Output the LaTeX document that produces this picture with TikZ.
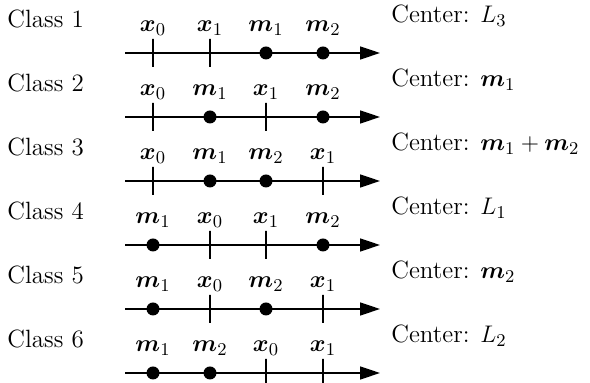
\documentclass[tikz,border=0pt]{standalone}
\usepackage{bm}
\usepackage{tikz}
\usetikzlibrary{arrows.meta}

\begin{document}
\begin{tikzpicture}[x=0.5pt,y=-0.5pt,
    every node/.style={font=\fontsize{12.5}{15}\selectfont, inner sep=0pt},
    axisline/.style={line width=0.8pt, -{Triangle[length=10pt,width=6.5pt]}},
    tickmark/.style={draw, line width=0.7pt, minimum width=0pt, minimum height=14pt},
    dotmark/.style={circle, fill=black, minimum size=6.5pt},
    ptlabel/.style={anchor=base},
    classlabel/.style={anchor=base west}]
    \useasboundingbox (0,0) rectangle (590,383);

    % Class 1
    \node[classlabel] (c1) at (7,28) {Class 1};
    \coordinate (s1) at (125,53); \coordinate (e1) at (380,53);
    \draw[axisline] (s1) -- (e1);
    \node[tickmark] (p1a) at (153,53) {}; \node[ptlabel] (l1a) at (153,32) {$\bm{x}_0$};
    \node[tickmark] (p1b) at (210,53) {}; \node[ptlabel] (l1b) at (210,32) {$\bm{x}_1$};
    \node[dotmark]  (p1c) at (266,53) {}; \node[ptlabel] (l1c) at (266,32) {$\bm{m}_1$};
    \node[dotmark]  (p1d) at (323,53) {}; \node[ptlabel] (l1d) at (323,32) {$\bm{m}_2$};
    \node[classlabel] (k1) at (391,23) {Center: $L_3$};

    % Class 2
    \node[classlabel] (c2) at (7,92) {Class 2};
    \coordinate (s2) at (125,117); \coordinate (e2) at (380,117);
    \draw[axisline] (s2) -- (e2);
    \node[tickmark] (p2a) at (153,117) {}; \node[ptlabel] (l2a) at (153,96) {$\bm{x}_0$};
    \node[dotmark]  (p2b) at (210,117) {}; \node[ptlabel] (l2b) at (210,96) {$\bm{m}_1$};
    \node[tickmark] (p2c) at (266,117) {}; \node[ptlabel] (l2c) at (266,96) {$\bm{x}_1$};
    \node[dotmark]  (p2d) at (323,117) {}; \node[ptlabel] (l2d) at (323,96) {$\bm{m}_2$};
    \node[classlabel] (k2) at (391,87) {Center: $\bm{m}_1$};

    % Class 3
    \node[classlabel] (c3) at (7,156) {Class 3};
    \coordinate (s3) at (125,181); \coordinate (e3) at (380,181);
    \draw[axisline] (s3) -- (e3);
    \node[tickmark] (p3a) at (153,181) {}; \node[ptlabel] (l3a) at (153,160) {$\bm{x}_0$};
    \node[dotmark]  (p3b) at (210,181) {}; \node[ptlabel] (l3b) at (210,160) {$\bm{m}_1$};
    \node[dotmark]  (p3c) at (266,181) {}; \node[ptlabel] (l3c) at (266,160) {$\bm{m}_2$};
    \node[tickmark] (p3d) at (323,181) {}; \node[ptlabel] (l3d) at (323,160) {$\bm{x}_1$};
    \node[classlabel] (k3) at (391,151) {Center: $\bm{m}_1 + \bm{m}_2$};

    % Class 4
    \node[classlabel] (c4) at (7,220) {Class 4};
    \coordinate (s4) at (125,245); \coordinate (e4) at (380,245);
    \draw[axisline] (s4) -- (e4);
    \node[dotmark]  (p4a) at (153,245) {}; \node[ptlabel] (l4a) at (153,224) {$\bm{m}_1$};
    \node[tickmark] (p4b) at (210,245) {}; \node[ptlabel] (l4b) at (210,224) {$\bm{x}_0$};
    \node[tickmark] (p4c) at (266,245) {}; \node[ptlabel] (l4c) at (266,224) {$\bm{x}_1$};
    \node[dotmark]  (p4d) at (323,245) {}; \node[ptlabel] (l4d) at (323,224) {$\bm{m}_2$};
    \node[classlabel] (k4) at (391,215) {Center: $L_1$};

    % Class 5
    \node[classlabel] (c5) at (7,284) {Class 5};
    \coordinate (s5) at (125,309); \coordinate (e5) at (380,309);
    \draw[axisline] (s5) -- (e5);
    \node[dotmark]  (p5a) at (153,309) {}; \node[ptlabel] (l5a) at (153,288) {$\bm{m}_1$};
    \node[tickmark] (p5b) at (210,309) {}; \node[ptlabel] (l5b) at (210,288) {$\bm{x}_0$};
    \node[dotmark]  (p5c) at (266,309) {}; \node[ptlabel] (l5c) at (266,288) {$\bm{m}_2$};
    \node[tickmark] (p5d) at (323,309) {}; \node[ptlabel] (l5d) at (323,288) {$\bm{x}_1$};
    \node[classlabel] (k5) at (391,279) {Center: $\bm{m}_2$};

    % Class 6
    \node[classlabel] (c6) at (7,348) {Class 6};
    \coordinate (s6) at (125,373); \coordinate (e6) at (380,373);
    \draw[axisline] (s6) -- (e6);
    \node[dotmark]  (p6a) at (153,373) {}; \node[ptlabel] (l6a) at (153,352) {$\bm{m}_1$};
    \node[dotmark]  (p6b) at (210,373) {}; \node[ptlabel] (l6b) at (210,352) {$\bm{m}_2$};
    \node[tickmark] (p6c) at (266,373) {}; \node[ptlabel] (l6c) at (266,352) {$\bm{x}_0$};
    \node[tickmark] (p6d) at (323,373) {}; \node[ptlabel] (l6d) at (323,352) {$\bm{x}_1$};
    \node[classlabel] (k6) at (391,343) {Center: $L_2$};
\end{tikzpicture}
\end{document}
